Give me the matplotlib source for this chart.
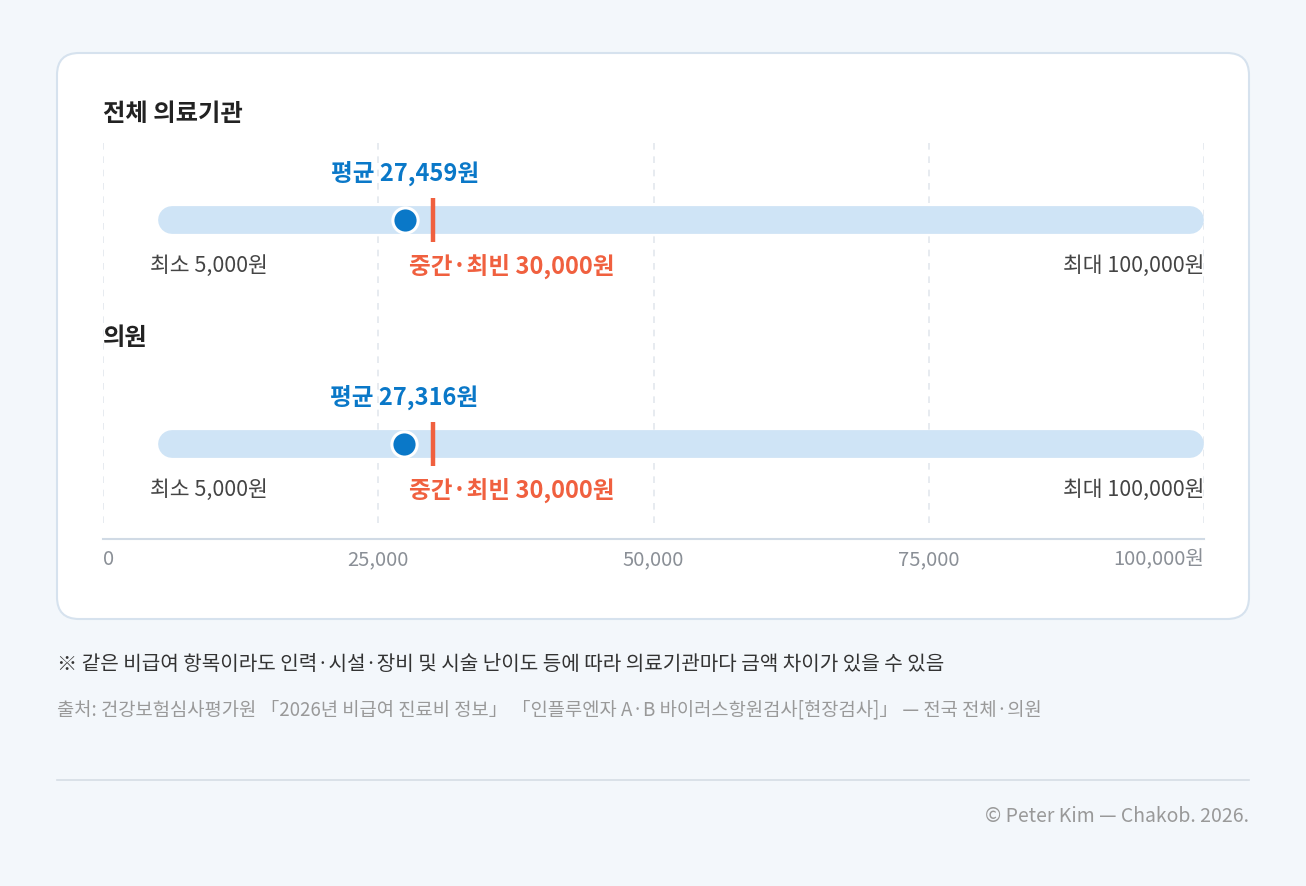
import matplotlib
matplotlib.use("Agg")
import matplotlib.pyplot as plt
from matplotlib.patches import FancyBboxPatch

plt.rcParams['font.family'] = ['Noto Sans CJK KR', 'DejaVu Sans']

groups = ["전체 의료기관", "의원"]
means = [27459, 27316]
medians = [30000, 30000]
mins = [5000, 5000]
maxs = [100000, 100000]
ticks = [0, 25000, 50000, 75000, 100000]
tick_labels = ["0", "25,000", "50,000", "75,000", "100,000원"]

W, H = 1306, 886
fig = plt.figure(figsize=(W/100, H/100), dpi=100)
fig.patch.set_facecolor("#f3f7fb")

bg = fig.add_axes([0, 0, 1, 1])
bg.set_xlim(0, W); bg.set_ylim(H, 0); bg.axis("off")
bg.add_patch(FancyBboxPatch((57, 53), 1192, 566, boxstyle="round,pad=0,rounding_size=22",
                            fc="white", ec="#d6e2ee", lw=1.5))
bg.text(57, 665, "※ 같은 비급여 항목이라도 인력·시설·장비 및 시술 난이도 등에 따라 의료기관마다 금액 차이가 있을 수 있음",
        fontsize=14.5, color="#333333", va="center")
bg.text(57, 710, "출처: 건강보험심사평가원 「2026년 비급여 진료비 정보」 「인플루엔자 A·B 바이러스항원검사[현장검사]」 — 전국 전체·의원",
        fontsize=13.5, color="#999999", va="center")
bg.plot([57, 1249], [780, 780], color="#d6dde5", lw=1.2)
bg.text(1249, 816, "© Peter Kim — Chakob. 2026.", fontsize=14, color="#999999", va="center", ha="right")

# data axes: x px 103..1204, y px 140..540
ax = fig.add_axes([103/W, 1-540/H, (1204-103)/W, 400/H])
ax.set_xlim(0, 100000); ax.set_ylim(540, 140); ax.axis("off")
pxu = 100000/(1204-103)

for t in ticks:
    ax.plot([t, t], [143, 527], color="#e3e8ee", lw=1.2, ls=(0, (4, 4)), zorder=0)
ax.plot([0, 100000], [539, 539], color="#d0dae5", lw=1.5, clip_on=False)
for t, lab in zip(ticks, tick_labels):
    ha = "left" if t == 0 else ("right" if t == 100000 else "center")
    ax.text(t, 560, lab, fontsize=14.5, color="#8a8f96", ha=ha, va="center", clip_on=False)

ys = [220, 444]
for g, m, md, lo, hi, y in zip(groups, means, medians, mins, maxs, ys):
    r = 14*pxu
    ax.plot([lo+r, hi-r], [y, y], color="#cfe4f6", lw=20, solid_capstyle="round", zorder=1, clip_on=False)
    ax.text(0, y-106, g, fontsize=17.5, fontweight="bold", color="#222222", va="center", clip_on=False)
    ax.plot([md, md], [y-22, y+22], color="#f0603f", lw=3.2, zorder=2, solid_capstyle="butt")
    ax.scatter([m], [y], s=330, color="#0a78c8", edgecolors="white", linewidths=2.2, zorder=3, clip_on=False)
    ax.text(m, y-47, f"평균 {m:,}원", fontsize=17, fontweight="bold", color="#0a78c8", ha="center", va="center")
    ax.text(lo - 8*pxu, y+46, f"최소 {lo:,}원", fontsize=15.5, color="#444444", ha="left", va="center", clip_on=False)
    ax.text(md - 2200, y+46, f"중간·최빈 {md:,}원", fontsize=17, fontweight="bold", color="#f0603f", ha="left", va="center")
    ax.text(hi, y+46, f"최대 {hi:,}원", fontsize=15.5, color="#444444", ha="right", va="center", clip_on=False)

fig.savefig("out.png", dpi=100, facecolor=fig.get_facecolor())
